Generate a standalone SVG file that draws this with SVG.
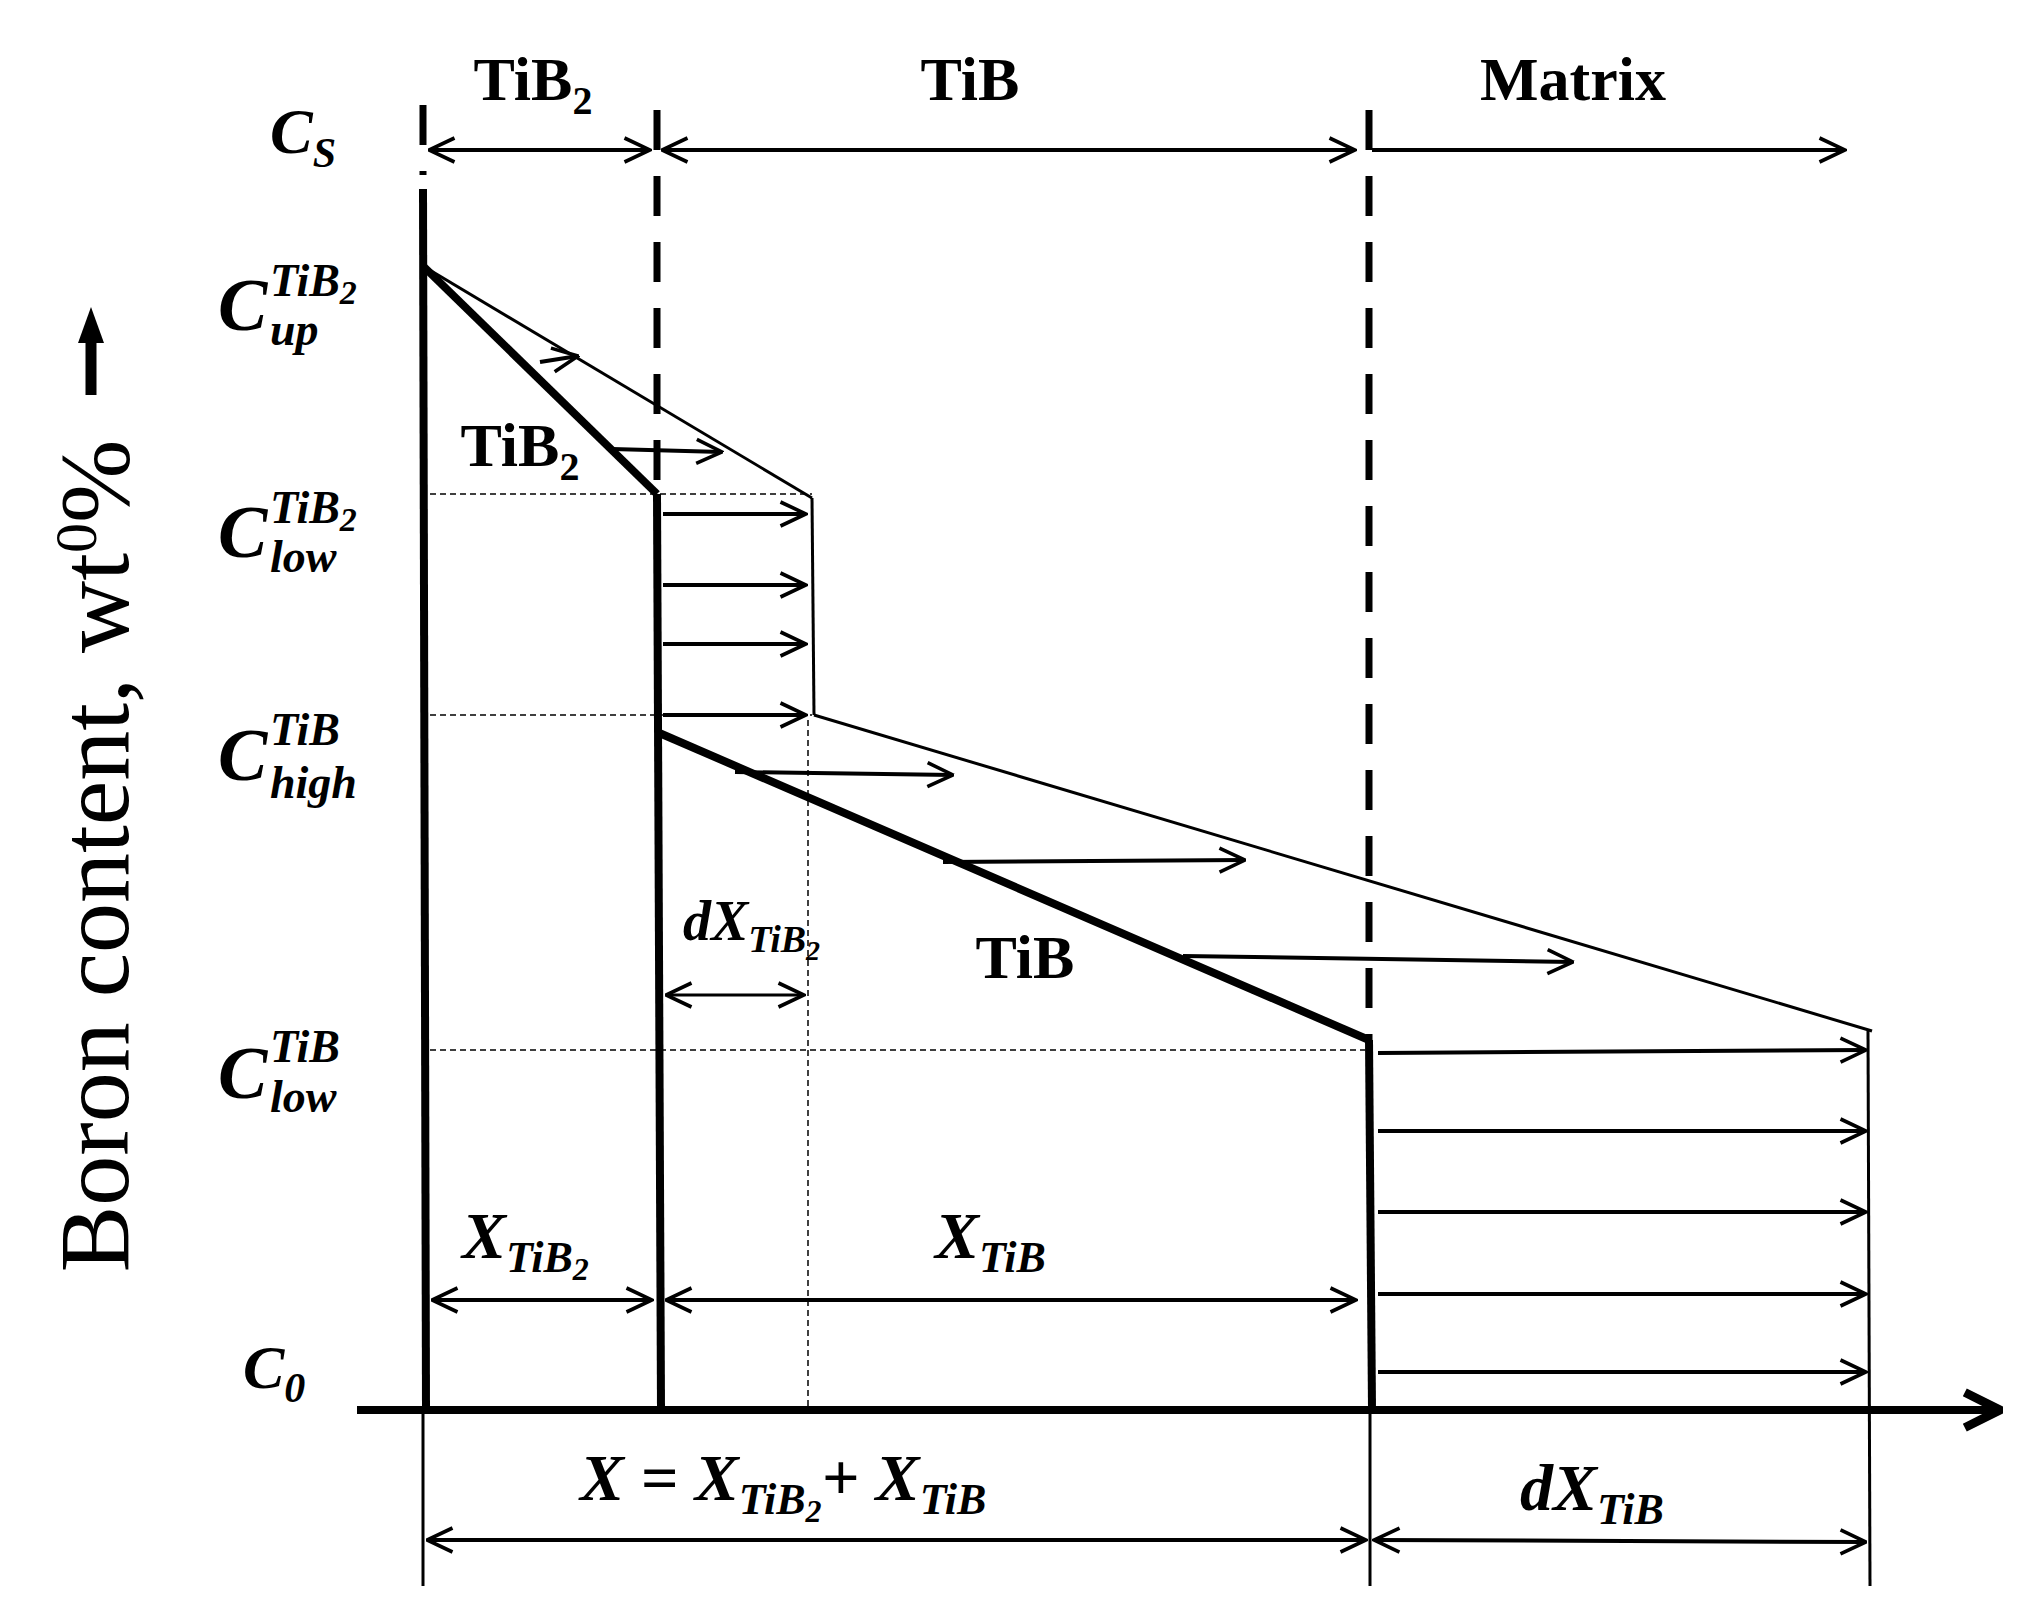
<svg xmlns="http://www.w3.org/2000/svg" width="2029" height="1616" viewBox="0 0 2029 1616">
<style>
.t{font-family:"Liberation Serif",serif;font-weight:bold;fill:#000}
.i{font-family:"Liberation Serif",serif;font-weight:bold;font-style:italic;fill:#000}
.th{stroke:#000;stroke-width:3;fill:none}
.tk{stroke:#000;stroke-width:8;fill:none}
.md{stroke:#000;stroke-width:4;fill:none}
.dot{stroke:#000;stroke-width:1.5;stroke-dasharray:6,4;fill:none}
.dash{stroke:#000;stroke-width:7;stroke-dasharray:40,26;fill:none}
</style>
<defs>
<marker id="a" viewBox="0 0 20 20" refX="19" refY="10" markerWidth="30" markerHeight="30" markerUnits="userSpaceOnUse" orient="auto-start-reverse"><path d="M2,2 L19,10 L2,18" fill="none" stroke="#000" stroke-width="2.4"/></marker>
<marker id="b" viewBox="0 0 30 30" refX="28" refY="15" markerWidth="44" markerHeight="44" markerUnits="userSpaceOnUse" orient="auto"><path d="M4,3 L28,15 L4,27" fill="none" stroke="#000" stroke-width="6"/></marker>
</defs>
<rect width="2029" height="1616" fill="#fff"/>
<g id="connectors">
<line class="tk" x1="357" y1="1410" x2="2000" y2="1410" marker-end="url(#b)"/>
<line class="tk" x1="423" y1="189" x2="426" y2="1408"/>
<line class="dash" x1="423" y1="105" x2="423" y2="175"/>
<line class="dash" x1="657" y1="110" x2="657" y2="494"/>
<line class="tk" x1="657" y1="494" x2="661" y2="1408"/>
<line class="dash" x1="1369" y1="110" x2="1369" y2="1040"/>
<line class="tk" x1="1369" y1="1040" x2="1372" y2="1408"/>
<line class="th" x1="1868" y1="1031" x2="1870" y2="1586"/>
<line class="th" x1="423" y1="1410" x2="423" y2="1586"/>
<line class="th" x1="1370" y1="1410" x2="1370" y2="1586"/>
<line class="md" x1="429" y1="150" x2="650" y2="150" marker-start="url(#a)" marker-end="url(#a)"/>
<line class="md" x1="662" y1="150" x2="1355" y2="150" marker-start="url(#a)" marker-end="url(#a)"/>
<line class="md" x1="1372" y1="150" x2="1845" y2="150" marker-end="url(#a)"/>
<line class="tk" x1="423" y1="266" x2="657" y2="494"/>
<line class="th" x1="423" y1="266" x2="812" y2="498"/>
<line class="th" x1="812" y1="498" x2="814" y2="715"/>
<line class="th" x1="814" y1="715" x2="1872" y2="1031"/>
<line class="tk" x1="657" y1="732" x2="1369" y2="1040"/>
<line class="dot" x1="430" y1="494" x2="812" y2="494"/>
<line class="dot" x1="430" y1="715" x2="812" y2="715"/>
<line class="dot" x1="430" y1="1050" x2="1365" y2="1050"/>
<line class="dot" x1="808" y1="720" x2="808" y2="1408"/>
<line class="md" x1="540" y1="362" x2="578" y2="356" marker-end="url(#a)"/>
<line class="md" x1="612" y1="449" x2="722" y2="452" marker-end="url(#a)"/>
<line class="md" x1="663" y1="514" x2="806" y2="514" marker-end="url(#a)"/>
<line class="md" x1="663" y1="585" x2="806" y2="585" marker-end="url(#a)"/>
<line class="md" x1="663" y1="644" x2="806" y2="644" marker-end="url(#a)"/>
<line class="md" x1="663" y1="715" x2="806" y2="715" marker-end="url(#a)"/>
<line class="md" x1="735" y1="772" x2="953" y2="775" marker-end="url(#a)"/>
<line class="md" x1="943" y1="862" x2="1245" y2="860" marker-end="url(#a)"/>
<line class="md" x1="1183" y1="956" x2="1573" y2="962" marker-end="url(#a)"/>
<line class="md" x1="1378" y1="1053" x2="1866" y2="1050" marker-end="url(#a)"/>
<line class="md" x1="1378" y1="1131" x2="1866" y2="1131" marker-end="url(#a)"/>
<line class="md" x1="1378" y1="1212" x2="1866" y2="1212" marker-end="url(#a)"/>
<line class="md" x1="1378" y1="1294" x2="1866" y2="1294" marker-end="url(#a)"/>
<line class="md" x1="1378" y1="1372" x2="1866" y2="1372" marker-end="url(#a)"/>
<line class="th" x1="666" y1="995" x2="804" y2="995" marker-start="url(#a)" marker-end="url(#a)"/>
<line class="md" x1="432" y1="1300" x2="652" y2="1300" marker-start="url(#a)" marker-end="url(#a)"/>
<line class="md" x1="666" y1="1300" x2="1356" y2="1300" marker-start="url(#a)" marker-end="url(#a)"/>
<line class="md" x1="427" y1="1540" x2="1366" y2="1540" marker-start="url(#a)" marker-end="url(#a)"/>
<line class="md" x1="1374" y1="1540" x2="1866" y2="1542" marker-start="url(#a)" marker-end="url(#a)"/>
<line x1="91" y1="395" x2="91" y2="340" stroke="#000" stroke-width="11"/>
<path d="M78,343 L91,307 L104,343 Z" fill="#000"/>
</g>
<g id="labels">
<text class="t" x="533" y="100" font-size="62" text-anchor="middle">TiB<tspan font-size="40" dy="14">2</tspan></text>
<text class="t" x="970" y="100" font-size="62" text-anchor="middle">TiB</text>
<text class="t" x="1573" y="100" font-size="62" text-anchor="middle">Matrix</text>
<text class="t" x="520" y="466" font-size="62" text-anchor="middle">TiB<tspan font-size="40" dy="14">2</tspan></text>
<text class="t" x="1025" y="978" font-size="62" text-anchor="middle">TiB</text>
<text class="i" x="270" y="153" font-size="64">C<tspan font-size="42" dy="14">S</tspan></text>
<text class="i" x="218" y="330" font-size="74">C</text><text class="i" x="270" y="296" font-size="46">TiB<tspan font-size="34" dy="8">2</tspan></text><text class="i" x="270" y="345" font-size="46">up</text>
<text class="i" x="218" y="557" font-size="74">C</text><text class="i" x="270" y="523" font-size="46">TiB<tspan font-size="34" dy="8">2</tspan></text><text class="i" x="270" y="572" font-size="46">low</text>
<text class="i" x="218" y="780" font-size="74">C</text><text class="i" x="270" y="745" font-size="46">TiB</text><text class="i" x="270" y="798" font-size="46">high</text>
<text class="i" x="218" y="1098" font-size="74">C</text><text class="i" x="270" y="1062" font-size="46">TiB</text><text class="i" x="270" y="1112" font-size="46">low</text>
<text class="i" x="243" y="1388" font-size="62">C<tspan font-size="42" dy="14">0</tspan></text>
<text class="i" x="683" y="940" font-size="56">dX<tspan font-size="38" dy="12">TiB</tspan><tspan font-size="28" dy="8">2</tspan></text>
<text class="i" x="462" y="1258" font-size="66">X<tspan font-size="44" dy="14">TiB</tspan><tspan font-size="32" dy="8">2</tspan></text>
<text class="i" x="935" y="1258" font-size="66">X<tspan font-size="44" dy="14">TiB</tspan></text>
<text class="i" x="580" y="1500" font-size="66">X = X<tspan font-size="44" dy="14">TiB</tspan><tspan font-size="32" dy="8">2</tspan><tspan font-size="66" dy="-22">+ X</tspan><tspan font-size="44" dy="14">TiB</tspan></text>
<text class="i" x="1520" y="1510" font-size="66">dX<tspan font-size="44" dy="14">TiB</tspan></text>
<text x="0" y="0" transform="translate(128,856) rotate(-90)" font-family="Liberation Serif,serif" font-size="100" text-anchor="middle">Boron content, wt<tspan font-size="60" dy="-32">0</tspan><tspan dy="32">%</tspan></text>
</g>
</svg>
